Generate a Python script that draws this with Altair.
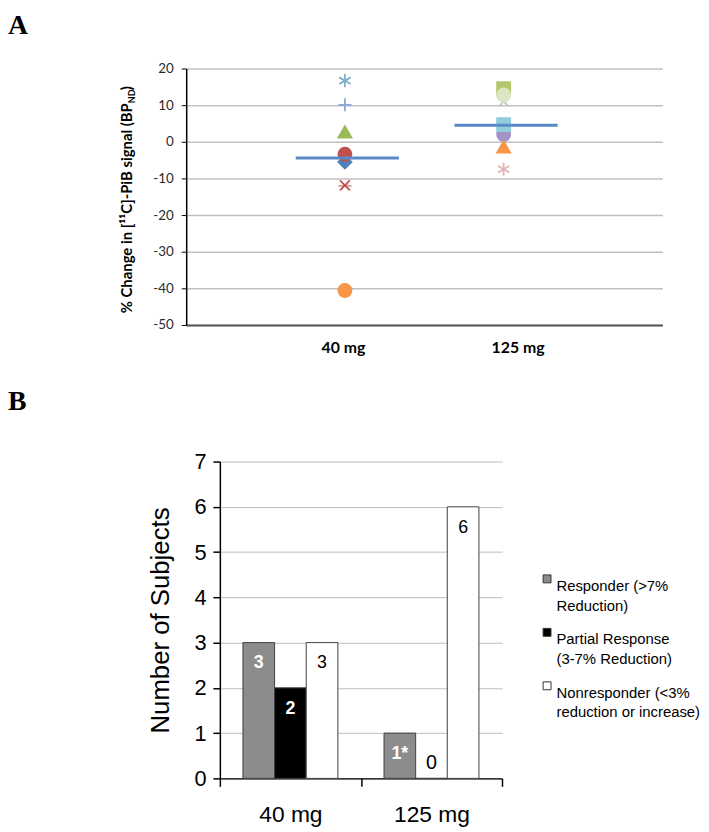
import json
import altair as alt
import pandas as pd

# ---------------- Panel A data ----------------
doses = ["40 mg", "125 mg"]
subj_40 = ["a1", "a2", "a3", "a4", "a5", "a6", "a7", "a8"]
pct_40 = [16.7, 10.1, 2.7, -5.5, -3.4, -12.0, -11.9, -40.6]
subj_125 = ["b1", "b2", "b3", "b4", "b5", "b6", "b7"]
pct_125 = [11.0, 14.5, 12.8, 2.0, 4.7, -1.4, -7.5]
mean_pct = [-4.4, 4.5]
y_ticks_a = [-50, -40, -30, -20, -10, 0, 10, 20]

# ---------------- Panel B data ----------------
responses = [
    "Responder (>7%\nReduction)",
    "Partial Response\n(3-7% Reduction)",
    "Nonresponder (<3%\nreduction or increase)",
]
counts_40 = [3, 2, 3]
counts_125 = [1, 0, 6]
labels_40 = ["3", "2", "3"]
labels_125 = ["1*", "0", "6"]
y_ticks_b = [0, 1, 2, 3, 4, 5, 6, 7]

# ---------------- styles ----------------
ASTERISK = "M0,-1L0,1M-0.87,-0.5L0.87,0.5M-0.87,0.5L0.87,-0.5"
PLUS = "M0,-1L0,1M-1,0L1,0"
XMARK = "M-0.75,-0.75L0.75,0.75M-0.75,0.75L0.75,-0.75"
DASH = "M-1,0L1,0"

shapes = [ASTERISK, PLUS, "triangle-up", "diamond", "circle", DASH, XMARK, "circle",
          XMARK, "square", "circle", "circle", "square", "triangle-up", ASTERISK]
colors = ["#7FB0CB", "#8AA8D8", "#9BBB59", "#4F81BD", "#C0504D", "#D99694", "#C0504D", "#F79646",
          "#C8C8C8", "#B3C76E", "#DCE6C0", "#A493C9", "#93CDDD", "#F79646", "#E0B4B4"]

CAL = "Lato"
ARIAL = "Liberation Sans"
SERIF = "Liberation Serif"

# ---------------- Panel A ----------------
pts = pd.DataFrame({
    "dose": [doses[0]] * len(pct_40) + [doses[1]] * len(pct_125),
    "sid": subj_40 + subj_125,
    "pct": pct_40 + pct_125,
})
means = pd.DataFrame({"dose": doses, "mean": mean_pct})
idx_expr = f"indexof({json.dumps(doses)}, datum.dose) + 1"
sids = subj_40 + subj_125

xa = alt.X(
    "idx:Q",
    scale=alt.Scale(domain=[0, 3], nice=False),
    axis=alt.Axis(
        values=[1, 2],
        labelExpr=f"{json.dumps(doses)}[datum.value - 1]",
        title=None, grid=False, ticks=False, tickSize=0,
        domainColor="#555555", domainWidth=2,
        labelFont=CAL, labelFontSize=16, labelFontWeight="bold", labelColor="black",
        labelPadding=15,
        labelOffset={"condition": {"test": "datum.value == 2", "value": 14}, "value": -2},
    ),
)
ya = alt.Y(
    "pct:Q",
    scale=alt.Scale(domain=[-50, 20], nice=False),
    axis=alt.Axis(
        values=y_ticks_a, tickCount=len(y_ticks_a), labelExpr="'' + datum.value",
        title=None, grid=True, gridColor="#C0C0C0", gridWidth=1.5,
        domainColor="black", domainWidth=1.5, tickColor="black", tickSize=5,
        labelFont=CAL, labelFontSize=13.5, labelColor="#2A2A2A", labelPadding=8,
        labelOverlap=False,
    ),
)

points = alt.Chart(pts).transform_calculate(idx=idx_expr).mark_point(
    filled=False, size=175, strokeWidth=1.8, opacity=1
).encode(
    x=xa,
    y=ya,
    shape=alt.Shape("sid:N", scale=alt.Scale(domain=sids, range=shapes), legend=None),
    fill=alt.Fill("sid:N", scale=alt.Scale(domain=sids, range=colors), legend=None),
    stroke=alt.Stroke("sid:N", scale=alt.Scale(domain=sids, range=colors), legend=None),
)

mean_rules = alt.Chart(means).transform_calculate(
    idx=idx_expr
).transform_calculate(
    x1="datum.idx - 0.31", x2="datum.idx + 0.34"
).mark_rule(color="#5A8AC6", strokeWidth=3).encode(
    x="x1:Q", x2="x2:Q", y="mean:Q"
)

one = pd.DataFrame({"k": [0]})
title_main = alt.Chart(one).mark_text(
    text="% Change in [\u00b9\u00b9C]-PiB signal (BP", angle=270, align="right",
    baseline="middle", font=CAL, fontWeight="bold", fontSize=15, color="black",
).encode(x=alt.value(-60), y=alt.value(35))
title_sub = alt.Chart(one).mark_text(
    text="ND", angle=270, align="left", baseline="middle", font=CAL,
    fontWeight="bold", fontSize=9, color="black",
).encode(x=alt.value(-55), y=alt.value(35))
title_end = alt.Chart(one).mark_text(
    text=")", angle=270, align="left", baseline="middle", font=CAL,
    fontWeight="bold", fontSize=15, color="black",
).encode(x=alt.value(-60), y=alt.value(22))
letter_a = alt.Chart(one).mark_text(
    text="A", align="left", baseline="top", font=SERIF, fontWeight="bold", fontSize=28, color="black"
).encode(x=alt.value(-180), y=alt.value(-57))

panel_a = alt.layer(points, mean_rules, title_main, title_sub, title_end, letter_a).properties(
    width=481, height=259
)

# ---------------- Panel B ----------------
bars_df = pd.DataFrame({
    "dose": [doses[0]] * 3 + [doses[1]] * 3,
    "response": responses * 2,
    "count": counts_40 + counts_125,
    "label": labels_40 + labels_125,
})

xb = alt.X(
    "dose:N", sort=doses,
    scale=alt.Scale(domain=doses, range=[34, 319], paddingInner=0, paddingOuter=0),
    axis=alt.Axis(
        title=None, labelAngle=0, tickBand="extent", ticks=True, tickSize=8,
        tickColor="black", domainColor="black", domainWidth=1.5, tickWidth=1.5,
        labelFont=ARIAL, labelFontSize=23, labelColor="black", labelPadding=18,
    ),
)
xo = alt.XOffset(
    "response:N", sort=responses,
    scale=alt.Scale(domain=responses, paddingOuter=0.73, paddingInner=0),
)
yb = alt.Y(
    "count:Q",
    scale=alt.Scale(domain=[0, 7], nice=False),
    axis=alt.Axis(
        values=y_ticks_b, tickCount=len(y_ticks_b), title="Number of Subjects", offset=-34,
        grid=True, gridColor="#BDBDBD", gridWidth=1,
        domainColor="black", domainWidth=1.5, tickColor="black", tickSize=7, tickWidth=1.5,
        labelFont=ARIAL, labelFontSize=22, labelColor="black", labelPadding=7,
        titleFont=ARIAL, titleFontSize=26, titleFontWeight="normal", titleColor="black",
        titlePadding=21,
    ),
)

bars = alt.Chart(bars_df).mark_bar(stroke="#404040", strokeWidth=1).encode(
    x=xb, xOffset=xo, y=yb,
    color=alt.Color(
        "response:N", sort=responses,
        scale=alt.Scale(domain=responses, range=["#8C8C8C", "#000000", "#FFFFFF"]),
        legend=alt.Legend(
            title=None, orient="none", legendX=357, legendY=111, padding=0,
            symbolType="square", symbolSize=64, symbolStrokeColor="#333333",
            symbolStrokeWidth=1, labelFont=ARIAL, labelFontSize=15,
            labelExpr="split(datum.label, '\\n')",
            labelBaseline="top", labelOffset=2, rowPadding=11, labelLimit=300,
            labelColor="black",
        ),
    ),
)

txt_base = alt.Chart(bars_df).encode(
    x=alt.X("dose:N", sort=doses), xOffset=alt.XOffset("response:N", sort=responses),
    y=alt.Y("count:Q"), text="label:N",
)
white_txt = txt_base.transform_filter(
    alt.FieldOneOfPredicate(field="response", oneOf=responses[:2])
).transform_filter(
    alt.FieldGTPredicate(field="count", gt=0)
).mark_text(color="white", fontWeight="bold", fontSize=18, font=ARIAL, dy=21, baseline="middle")
black_txt = txt_base.transform_filter(
    alt.FieldEqualPredicate(field="response", equal=responses[2])
).transform_filter(
    alt.FieldGTPredicate(field="count", gt=0)
).mark_text(color="black", fontSize=18, font=ARIAL, dy=21, baseline="middle")
zero_txt = txt_base.transform_filter(
    alt.FieldEqualPredicate(field="count", equal=0)
).mark_text(color="black", fontSize=20, font=ARIAL, dy=-15, baseline="middle")

letter_b = alt.Chart(one).mark_text(
    text="B", align="left", baseline="top", font=SERIF, fontWeight="bold", fontSize=28, color="black"
).encode(x=alt.value(-180), y=alt.value(-74))

panel_b = alt.layer(bars, white_txt, black_txt, zero_txt, letter_b).properties(
    width=319, height=320
)

chart = alt.vconcat(panel_a, panel_b, spacing=33).resolve_scale(
    x="independent", y="independent", color="independent",
    fill="independent", stroke="independent", shape="independent",
).properties(padding=0).configure(
    view=alt.ViewConfig(stroke=None),
    style={"guide-label": {"lineHeight": 20}},
)

chart.save("out.html", embed_options={"renderer": "svg", "actions": False})
